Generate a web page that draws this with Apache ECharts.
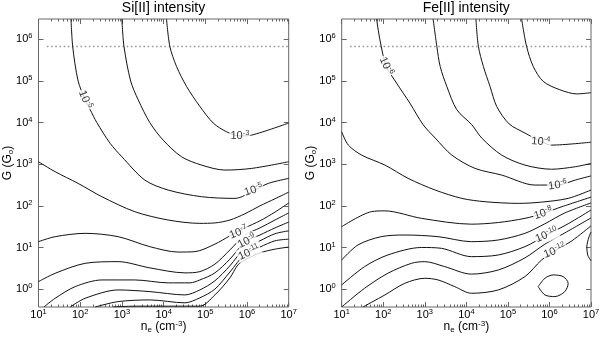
<!DOCTYPE html>
<html lang="en">
<head>
<meta charset="UTF-8">
<title>Si[II] / Fe[II] intensity</title>
<script src="https://cdn.jsdelivr.net/npm/echarts@6.0.0/dist/echarts.min.js"></script>
<style>
    html, body { margin: 0; padding: 0; background: #fff; }
    #chart { width: 600px; height: 341px; }
</style>
</head>
<body>
<div id="chart"></div>
<script type="text/javascript">
// everything is in log10 units: x = log10 n_e (cm^-3), y = log10 G (G0)
var X_TICKS = [1, 2, 3, 4, 5, 6, 7];
var Y_TICKS = [0, 1, 2, 3, 4, 5, 6];
var X_RANGE = [1, 7];
var Y_RANGE = [-0.43, 6.49];
var G_LIMIT = [[1.2, 5.83], [7, 5.83]];   // dotted horizontal line

// Si[II] contours, levels 1e-3 ... 1e-12
var SI_M3 = [[4.07,6.49],[4.15,5.83],[4.31,5.35],[4.55,4.87],[4.87,4.39],[5.19,3.99],[5.51,3.78],[5.83,3.68],[6.11,3.7],[7,3.99]];
var SI_M4 = [[3.0,6.49],[3.05,5.83],[3.21,5.0],[3.39,4.55],[3.67,4.0],[3.99,3.58],[4.43,3.18],[4.91,2.98],[5.47,2.86],[6.11,2.9],[7,3.06]];
var SI_M5 = [[1.78,6.49],[1.82,5.83],[1.95,5.0],[2.12,4.55],[2.24,4.31],[2.4,4.0],[2.72,3.5],[3.0,3.18],[3.55,2.62],[4.11,2.38],[4.91,2.22],[5.71,2.18],[6.19,2.38],[6.51,2.54],[7,2.66]];
var SI_M6 = [[1.0,3.06],[1.4,2.82],[1.95,2.54],[2.52,2.22],[3.31,1.86],[4.11,1.66],[4.87,1.58],[5.23,1.59],[5.59,1.66],[5.95,1.81],[6.31,2.0],[6.67,2.17],[7,2.33]];
var SI_M7 = [[1.0,1.14],[1.4,1.26],[2.12,1.34],[2.91,1.26],[3.67,1.02],[4.35,0.89],[4.75,0.9],[5.23,1.08],[5.59,1.28],[5.95,1.47],[6.31,1.64],[6.67,1.85],[7,2.07]];
var SI_M8 = [[1.0,0.18],[1.4,0.38],[2.12,0.62],[2.91,0.66],[3.67,0.51],[4.51,0.39],[4.87,0.42],[5.23,0.6],[5.59,0.94],[5.95,1.3],[6.31,1.47],[6.67,1.66],[7,1.83]];
var SI_M9 = [[1.13,-0.43],[1.4,-0.22],[1.88,0.06],[2.52,0.22],[3.31,0.22],[4.11,0.15],[4.63,0.15],[4.87,0.22],[5.23,0.39],[5.59,0.72],[5.95,1.13],[6.31,1.3],[6.67,1.47],[7,1.61]];
var SI_M10 = [[1.76,-0.43],[2.12,-0.22],[2.91,-0.02],[3.67,-0.06],[4.51,-0.14],[4.87,-0.02],[5.23,0.2],[5.59,0.56],[5.95,0.99],[6.31,1.16],[6.67,1.33],[7,1.4]];
var SI_M11 = [[2.36,-0.43],[2.91,-0.3],[3.67,-0.26],[4.51,-0.33],[4.87,-0.21],[5.23,0.0],[5.59,0.41],[5.95,0.84],[6.31,1.01],[6.67,1.16],[7,1.2]];
var SI_M12 = [[2.79,-0.43],[3.31,-0.41],[4.15,-0.41],[4.87,-0.41],[5.23,-0.14],[5.59,0.27],[5.78,0.58],[5.95,0.7],[6.31,0.87],[6.67,0.96],[7,1.01]];
var SI_LINES = [SI_M3, SI_M4, SI_M5, SI_M6, SI_M7, SI_M8, SI_M9, SI_M10, SI_M11, SI_M12];
// contour labels: x, y, exponent
var SI_LABELS = [[5.83,3.68,'-3'],[2.12,4.55,'-5'],[6.16,2.38,'-5'],[5.8,1.36,'-7'],[6.0,1.15,'-9'],[6.05,0.88,'-11']];

// Fe[II] contours, levels 1e-3 ... 1e-12
var FE_M3 = [[5.33,6.49],[5.45,5.83],[5.61,5.35],[5.85,4.99],[6.25,4.79],[6.66,4.69],[7,4.72]];
var FE_M4 = [[4.23,6.49],[4.29,5.83],[4.41,5.35],[4.57,4.87],[4.73,4.39],[5.03,3.97],[5.41,3.75],[5.81,3.54],[6.05,3.46],[7,3.53]];
var FE_M5 = [[3.2,6.49],[3.29,5.83],[3.37,5.35],[3.53,4.87],[3.77,4.31],[4.13,3.95],[4.37,3.63],[4.85,3.22],[5.41,2.98],[6.05,2.88],[6.62,2.94],[7,3.02]];
var FE_M6 = [[1.84,6.49],[1.92,5.99],[2.07,5.36],[2.32,4.95],[2.64,4.47],[2.96,3.95],[3.25,3.63],[3.65,3.22],[4.21,2.9],[4.85,2.74],[5.65,2.5],[6.2,2.5],[6.62,2.62],[7,2.72]];
var FE_M7 = [[1,3.78],[1.16,3.46],[1.48,3.22],[2.04,2.98],[2.6,2.66],[3.25,2.38],[3.89,2.18],[4.45,2.1],[5.25,2.06],[5.81,2.09],[6.45,2.18],[7,2.38]];
var FE_M8 = [[1,1.5],[1.71,1.86],[2.04,1.88],[2.92,1.7],[4.12,1.56],[4.77,1.6],[5.41,1.7],[5.85,1.82],[6.3,1.98],[7,2.21]];
var FE_M9 = [[1,0.7],[1.39,1.06],[1.95,1.26],[2.52,1.3],[3.32,1.26],[4.12,1.14],[4.77,1.18],[5.41,1.34],[5.89,1.57],[6.37,1.83],[7,2.07]];
var FE_M10 = [[1,0.1],[1.55,0.54],[2.11,0.82],[2.92,1.0],[3.4,0.98],[4.12,0.78],[4.77,0.82],[5.41,1.02],[5.93,1.3],[6.45,1.57],[7,1.9]];
var FE_M11 = [[1,-0.43],[1.55,0.02],[2.11,0.38],[2.68,0.62],[3.0,0.66],[3.48,0.54],[4.12,0.36],[4.77,0.46],[5.41,0.75],[5.89,1.08],[6.37,1.35],[7,1.71]];
var FE_M12 = [[1.51,-0.43],[2.04,-0.14],[2.52,0.14],[3.0,0.26],[3.32,0.22],[3.72,0.06],[4.12,-0.1],[4.77,-0.02],[5.41,0.3],[5.81,0.7],[6.13,0.92],[6.54,1.16],[7,1.52]];
var FE_ISLAND = [[5.73,0.06],[5.89,0.26],[6.09,0.34],[6.33,0.3],[6.45,0.14],[6.37,-0.06],[6.13,-0.18],[5.89,-0.14],[5.73,0.06]];
var FE_EDGE = [[7,1.37],[6.95,1.25],[6.9,1.02],[6.92,0.82],[7,0.68]];
var FE_LINES = [FE_M3, FE_M4, FE_M5, FE_M6, FE_M7, FE_M8, FE_M9, FE_M10, FE_M11, FE_M12, FE_ISLAND, FE_EDGE];
var FE_LABELS = [[5.79,3.54,'-4'],[2.07,5.36,'-6'],[6.2,2.5,'-6'],[5.85,1.82,'-8'],[5.93,1.3,'-10'],[6.13,0.92,'-12']];

// ---- styling ----
var FONT = 'Liberation Sans, Arial, sans-serif';
var FRAME = '#666';
var SI_ROT = [0, -68, 18, 22, 28, 25];
var FE_ROT = [-5, -66, 8, 18, 22, 22];

// minor ticks 2..9 inside each decade
var X_MINOR = [];
for (var d = 1; d < 7; d++) {
    for (var k = 2; k <= 9; k++) X_MINOR.push(d + Math.log10(k));
}

var RICH = {
    b: {fontSize: 11, lineHeight: 14, fontFamily: FONT, color: '#000'},
    s: {fontSize: 7.5, lineHeight: 8, verticalAlign: 'top', fontFamily: FONT, color: '#000'}
};
var NAME_RICH = {
    b: {fontSize: 12, lineHeight: 14, fontFamily: FONT, color: '#000'},
    s: {fontSize: 8, lineHeight: 8, verticalAlign: 'top', fontFamily: FONT, color: '#000'},
    u: {fontSize: 8, lineHeight: 8, verticalAlign: 'bottom', fontFamily: FONT, color: '#000'}
};
function pow(v) { return '{b|10}{s|' + v + '}'; }

function xAxes(g) {
    function ax(pos, major, extra) {
        var a = {
            gridIndex: g, type: 'value', min: X_RANGE[0], max: X_RANGE[1], position: pos,
            axisLine: {show: false, onZero: false}, splitLine: {show: false},
            axisTick: {inside: true, length: major ? 5 : 2.5, customValues: major ? X_TICKS : X_MINOR,
                       lineStyle: {color: FRAME, width: 1}},
            axisLabel: {show: false}
        };
        return Object.assign(a, extra || {});
    }
    return [
        ax('bottom', true, {
            axisLabel: {customValues: X_TICKS, formatter: pow, rich: RICH, margin: 1},
            name: '{b|n}{u|e}{b| (cm}{s|-3}{b|)}', nameLocation: 'middle', nameGap: 13,
            nameMoveOverlap: false, nameTextStyle: {rich: NAME_RICH}
        }),
        ax('bottom', false),
        ax('top', true),
        ax('top', false)
    ];
}

function yAxes(g) {
    function ax(pos, extra) {
        var a = {
            gridIndex: g, type: 'value', min: Y_RANGE[0], max: Y_RANGE[1], position: pos,
            axisLine: {show: false, onZero: false}, splitLine: {show: false},
            axisTick: {inside: true, length: 5, customValues: Y_TICKS, lineStyle: {color: FRAME, width: 1}},
            axisLabel: {show: false}
        };
        return Object.assign(a, extra || {});
    }
    return [
        ax('left', {
            axisLabel: {customValues: Y_TICKS, formatter: pow, rich: RICH, margin: 6},
            name: '{b|G (G}{u|o}{b|)}', nameLocation: 'middle', nameGap: 24,
            nameMoveOverlap: false, nameTextStyle: {rich: NAME_RICH}
        }),
        ax('right')
    ];
}

function panelSeries(lines, labels, rot, xi, yi) {
    var out = lines.map(function (pts) {
        return {
            type: 'line', xAxisIndex: xi, yAxisIndex: yi, data: pts,
            showSymbol: false, smooth: 0.3, silent: true, z: 2,
            lineStyle: {color: '#111', width: 1}
        };
    });
    out.push({
        type: 'line', xAxisIndex: xi, yAxisIndex: yi, data: G_LIMIT,
        showSymbol: false, silent: true, z: 1,
        lineStyle: {color: '#999', width: 1.6, type: [1.6, 2.6]}
    });
    out.push({
        type: 'scatter', xAxisIndex: xi, yAxisIndex: yi, z: 5, silent: true,
        symbolSize: 1, itemStyle: {color: 'rgba(0,0,0,0)'},
        label: {show: true, position: 'inside', backgroundColor: '#fff', padding: [0, 1, 0, 1], rich: RICH},
        data: labels.map(function (l, i) {
            return {value: [l[0], l[1]], label: {rotate: rot[i], formatter: '{b|10}{s|' + l[2] + '}'}};
        })
    });
    return out;
}

var chart = echarts.init(document.getElementById('chart'), null, {renderer: 'canvas'});
var option = {
    animation: false,
    backgroundColor: '#fff',
    title: [
        {text: 'Si[II] intensity', left: 163.5, top: 1, textAlign: 'center', padding: 0,
         textStyle: {fontSize: 14, fontWeight: 'normal', color: '#000', fontFamily: FONT}},
        {text: 'Fe[II] intensity', left: 466.3, top: 1, textAlign: 'center', padding: 0,
         textStyle: {fontSize: 14, fontWeight: 'normal', color: '#000', fontFamily: FONT}}
    ],
    grid: [
        {left: 38.5, top: 19, width: 250.2, height: 288, show: true, borderColor: FRAME, borderWidth: 1,
         backgroundColor: 'transparent', outerBoundsMode: 'none'},
        {left: 341.7, top: 19, width: 249.3, height: 288, show: true, borderColor: FRAME, borderWidth: 1,
         backgroundColor: 'transparent', outerBoundsMode: 'none'}
    ],
    xAxis: xAxes(0).concat(xAxes(1)),
    yAxis: yAxes(0).concat(yAxes(1)),
    series: panelSeries(SI_LINES, SI_LABELS, SI_ROT, 0, 0)
        .concat(panelSeries(FE_LINES, FE_LABELS, FE_ROT, 4, 2))
};
chart.setOption(option);
</script>
</body>
</html>
